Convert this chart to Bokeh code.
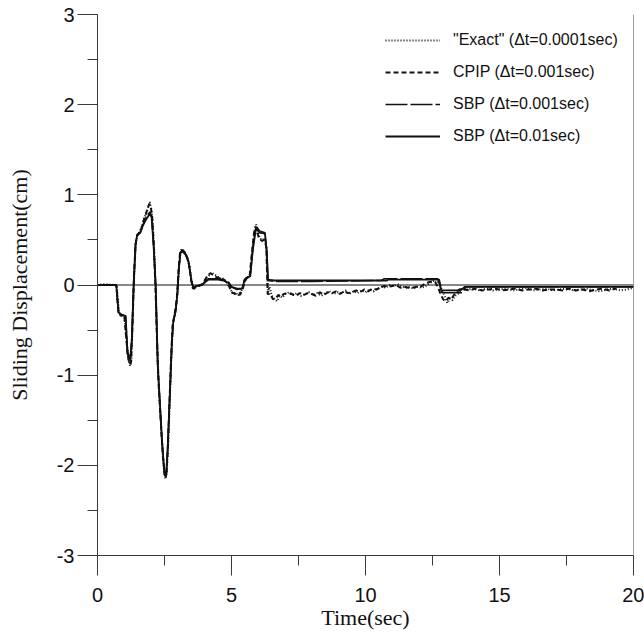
from bokeh.plotting import figure
from bokeh.models import (FixedTicker, Span, Legend, LegendItem)
from bokeh.embed import file_html
from bokeh.resources import INLINE

# ---------------- data ----------------
exact_t = [0, 0.3, 0.6, 0.72, 0.8, 0.88, 1.0, 1.08, 1.15, 1.22, 1.27, 1.32, 1.38, 1.44, 1.5, 1.58,
           1.65, 1.72, 1.8, 1.88, 1.95, 2.0, 2.06, 2.12, 2.18, 2.24, 2.3, 2.38, 2.46, 2.53, 2.58,
           2.64, 2.7, 2.76, 2.82, 2.9, 2.98, 3.04, 3.1, 3.16, 3.26, 3.36, 3.44, 3.52, 3.58, 3.66,
           3.8, 3.95, 4.05, 4.15, 4.25, 4.35, 4.45, 4.55, 4.65, 4.75, 4.85, 4.95, 5.05, 5.15, 5.25,
           5.35, 5.45, 5.5, 5.6, 5.7, 5.78, 5.86, 5.92, 5.98, 6.05, 6.15, 6.25, 6.3, 6.36, 6.42,
           6.5, 6.6, 6.7, 6.8, 6.9, 7.0, 7.15, 7.3, 7.45, 7.6, 7.75, 7.9, 8.05, 8.2, 8.35, 8.5,
           8.65, 8.8, 8.95, 9.1, 9.25, 9.4, 9.55, 9.7, 9.85, 10.0, 10.15, 10.3, 10.45, 10.6, 10.75,
           10.9, 11.05, 11.2, 11.35, 11.5, 11.65, 11.8, 11.95, 12.1, 12.25, 12.4, 12.55, 12.65,
           12.75, 12.85, 12.95, 13.05, 13.15, 13.25, 13.35, 13.45, 13.55, 13.65, 13.8, 14.0, 14.25,
           14.5, 14.75, 15.0, 15.25, 15.5, 15.75, 16.0, 16.25, 16.5, 16.75, 17.0, 17.25, 17.5,
           17.75, 18.0, 18.25, 18.5, 18.75, 19.0, 19.25, 19.5, 19.75, 20.0]
exact_v = [0, 0.01, 0.0, 0.0, -0.3, -0.33, -0.36, -0.6, -0.82, -0.9, -0.82, -0.3, 0.2, 0.5, 0.55, 0.6,
           0.65, 0.72, 0.78, 0.85, 0.92, 0.86, 0.7, 0.35, -0.1, -0.8, -1.2, -1.6, -2.0, -2.15, -2.1,
           -1.75, -1.25, -0.75, -0.42, -0.3, -0.12, 0.2, 0.38, 0.4, 0.36, 0.3, 0.2, 0.02, -0.05, -0.02,
           -0.01, 0.02, 0.08, 0.1, 0.14, 0.12, 0.1, 0.07, 0.08, 0.05, 0.02, -0.04, -0.1, -0.08, -0.12,
           -0.07, -0.02, 0.05, 0.08, 0.12, 0.4, 0.6, 0.67, 0.6, 0.52, 0.5, 0.52, 0.4, -0.08, -0.02,
           -0.12, -0.15, -0.18, -0.12, -0.14, -0.1, -0.08, -0.11, -0.09, -0.12, -0.1, -0.08, -0.11, -0.09, -0.12, -0.09,
           -0.07, -0.1, -0.08, -0.09, -0.06, -0.1, -0.07, -0.09, -0.06, -0.08, -0.05, -0.07, -0.04, -0.02, -0.03,
           0.0, -0.01, 0.01, -0.02, -0.03, -0.02, -0.04, -0.02, -0.03, -0.01, 0.02, 0.05, 0.02,
           0.04, -0.05, -0.12, -0.2, -0.15, -0.17, -0.12, -0.1, -0.06, -0.03, -0.05, -0.04, -0.06,
           -0.04, -0.06, -0.05, -0.04, -0.06, -0.05, -0.03, -0.06, -0.05, -0.04, -0.06, -0.05, -0.04,
           -0.06, -0.05, -0.04, -0.06, -0.07, -0.05, -0.04, -0.06, -0.05, -0.03]

cpip_t = [0, 0.4, 0.7, 0.78, 0.86, 1.0, 1.06, 1.14, 1.2, 1.25, 1.3, 1.36, 1.42, 1.48, 1.56, 1.64,
          1.7, 1.78, 1.86, 1.93, 1.98, 2.04, 2.1, 2.16, 2.22, 2.28, 2.36, 2.44, 2.52, 2.57, 2.62,
          2.68, 2.74, 2.8, 2.88, 2.96, 3.02, 3.08, 3.14, 3.24, 3.34, 3.42, 3.5, 3.56, 3.64, 3.78,
          3.92, 4.02, 4.12, 4.22, 4.32, 4.42, 4.52, 4.62, 4.72, 4.82, 4.92, 5.02, 5.12, 5.22, 5.32,
          5.42, 5.5, 5.58, 5.68, 5.76, 5.84, 5.9, 5.96, 6.04, 6.14, 6.24, 6.3, 6.35, 6.45, 6.55,
          6.65, 6.75, 6.85, 6.95, 7.1, 7.25, 7.4, 7.55, 7.7, 7.85, 8.0, 8.15, 8.3, 8.45, 8.6, 8.75,
          8.9, 9.05, 9.2, 9.35, 9.5, 9.65, 9.8, 9.95, 10.1, 10.25, 10.4, 10.55, 10.7, 10.85, 11.0,
          11.15, 11.3, 11.45, 11.6, 11.75, 11.9, 12.05, 12.2, 12.35, 12.5, 12.6, 12.7, 12.8, 12.9,
          13.0, 13.1, 13.2, 13.3, 13.4, 13.5, 13.6, 13.7, 13.9, 14.1, 14.35, 14.6, 14.85, 15.1,
          15.35, 15.6, 15.85, 16.1, 16.35, 16.6, 16.85, 17.1, 17.35, 17.6, 17.85, 18.1, 18.35,
          18.6, 18.85, 19.1, 19.35, 19.6, 19.85, 20.0]
cpip_v = [0, 0.0, 0.0, -0.28, -0.34, -0.33, -0.55, -0.8, -0.88, -0.86, -0.5, 0.1, 0.45, 0.55, 0.58, 0.62,
          0.7, 0.76, 0.84, 0.9, 0.88, 0.75, 0.45, 0.0, -0.6, -1.1, -1.5, -1.9, -2.12, -2.1, -1.85,
          -1.35, -0.85, -0.45, -0.32, -0.15, 0.15, 0.36, 0.39, 0.37, 0.31, 0.22, 0.05, -0.04, -0.03,
          -0.01, 0.01, 0.06, 0.11, 0.13, 0.11, 0.09, 0.08, 0.06, 0.06, 0.03, -0.02, -0.08, -0.1, -0.09,
          -0.11, -0.04, 0.04, 0.09, 0.11, 0.35, 0.58, 0.65, 0.58, 0.51, 0.49, 0.5, 0.42, -0.1, -0.1,
          -0.16, -0.15, -0.11, -0.13, -0.1, -0.09, -0.1, -0.12, -0.09, -0.11, -0.09, -0.1, -0.12, -0.08, -0.11, -0.08,
          -0.09, -0.07, -0.1, -0.07, -0.09, -0.08, -0.06, -0.08, -0.05, -0.07, -0.04, -0.05, -0.03, -0.01, -0.02,
          -0.01, 0.0, -0.03, -0.02, -0.03, -0.03, -0.02, -0.02, 0.01, 0.03, 0.04, 0.03, -0.02, -0.1,
          -0.16, -0.18, -0.14, -0.16, -0.11, -0.08, -0.05, -0.04, -0.05, -0.06, -0.04, -0.06, -0.05,
          -0.04, -0.06, -0.05, -0.04, -0.06, -0.05, -0.04, -0.06, -0.05, -0.05, -0.06, -0.04,
          -0.06, -0.05, -0.07, -0.05, -0.04, -0.06, -0.04]

sbp1_t = [0, 0.7, 0.78, 0.85, 1.05, 1.12, 1.22, 1.28, 1.35, 1.42, 1.48, 1.6, 1.68, 1.8, 1.95, 2.02,
          2.1, 2.17, 2.25, 2.3, 2.4, 2.5, 2.56, 2.62, 2.7, 2.78, 2.83, 2.92, 2.98, 3.04, 3.1, 3.18,
          3.3, 3.4, 3.5, 3.58, 3.7, 3.9, 4.05, 4.15, 4.5, 4.7, 4.9, 5.0, 5.2, 5.4, 5.48, 5.55, 5.7,
          5.8, 5.9, 5.95, 6.05, 6.25, 6.32, 6.36, 6.6, 8.0, 10.8, 10.85, 12.75, 12.82, 13.55,
          13.7, 20.0]
sbp1_v = [0, 0, -0.3, -0.32, -0.35, -0.75, -0.82, -0.6, 0.0, 0.45, 0.55, 0.58, 0.65, 0.72, 0.79, 0.75,
          0.4, 0.0, -0.9, -1.15, -1.7, -2.1, -2.12, -1.8, -1.2, -0.6, -0.4, -0.28, -0.1, 0.2, 0.36, 0.37,
          0.33, 0.25, 0.05, -0.03, -0.01, 0.0, 0.04, 0.06, 0.06, 0.05, 0.02, -0.02, -0.04, -0.04, 0.05, 0.07, 0.1,
          0.4, 0.6, 0.62, 0.58, 0.57, 0.35, 0.06, 0.05, 0.05, 0.05, 0.06, 0.06, -0.06, -0.06,
          -0.02, -0.02]

sbp2_t = [0, 0.7, 0.78, 0.85, 1.05, 1.12, 1.22, 1.28, 1.35, 1.42, 1.48, 1.6, 1.68, 1.8, 1.95, 2.02,
          2.1, 2.17, 2.25, 2.3, 2.4, 2.5, 2.56, 2.62, 2.7, 2.78, 2.83, 2.92, 2.98, 3.04, 3.1, 3.18,
          3.3, 3.4, 3.5, 3.58, 3.7, 3.9, 4.05, 4.15, 4.5, 4.7, 4.9, 5.0, 5.2, 5.4, 5.48, 5.55, 5.7,
          5.8, 5.9, 5.95, 6.05, 6.25, 6.32, 6.36, 6.6, 8.0, 10.6, 10.7, 12.7, 12.85, 13.6,
          13.75, 20.0]
sbp2_v = [0, 0, -0.31, -0.33, -0.34, -0.77, -0.84, -0.62, 0.0, 0.46, 0.56, 0.59, 0.66, 0.74, 0.81, 0.77,
          0.42, 0.0, -0.92, -1.17, -1.72, -2.1, -2.13, -1.82, -1.22, -0.62, -0.41, -0.29, -0.1, 0.2, 0.37, 0.38,
          0.34, 0.26, 0.05, -0.03, -0.01, 0.0, 0.05, 0.07, 0.07, 0.06, 0.03, -0.02, -0.05, -0.04, 0.06, 0.08, 0.1,
          0.42, 0.62, 0.64, 0.6, 0.58, 0.36, 0.05, 0.04, 0.04, 0.05, 0.07, 0.07, -0.085, -0.085,
          -0.02, -0.02]

x_ticks = [0, 5, 10, 15, 20]
x_minor = [2.5, 7.5, 12.5, 17.5]
y_ticks = [-3, -2, -1, 0, 1, 2, 3]
y_minor = [-2.5, -1.5, -0.5, 0.5, 1.5, 2.5]
y_tick_labels = ["-3", "-2", "-1", "0", "1", "2", "3"]

labels = ['"Exact" (\u0394t=0.0001sec)', 'CPIP (\u0394t=0.001sec)',
          'SBP (\u0394t=0.001sec)', 'SBP (\u0394t=0.01sec)']

# ---------------- figure ----------------
INK = "#111111"
AX = "#3a3a3a"

p = figure(width=644, height=632, x_range=(0, 20), y_range=(-3, 3),
           output_backend="svg", toolbar_location=None,
           min_border_left=97, min_border_right=11, min_border_top=14, min_border_bottom=76)
p.outline_line_color = None
p.grid.visible = False
p.background_fill_color = "white"
p.border_fill_color = "white"

for ax, maj, mnr in ((p.xaxis[0], x_ticks, x_minor), (p.yaxis[0], y_ticks, y_minor)):
    ax.ticker = FixedTicker(ticks=maj, minor_ticks=mnr)
    ax.major_tick_out = 20
    ax.major_tick_in = 0
    ax.minor_tick_out = 10
    ax.minor_tick_in = 0
    ax.axis_line_color = AX
    ax.major_tick_line_color = AX
    ax.minor_tick_line_color = AX
    ax.major_label_text_font = "Liberation Sans"
    ax.major_label_text_font_size = "20px"
    ax.major_label_text_color = "#111111"
    ax.axis_label_text_font = "Liberation Serif"
    ax.axis_label_text_font_size = "22px"
    ax.axis_label_text_font_style = "normal"
    ax.axis_label_text_color = "#111111"

p.yaxis[0].major_label_overrides = {t: s for t, s in zip(y_ticks, y_tick_labels)}

p.xaxis.axis_label = "Time(sec)"
p.yaxis.axis_label = "Sliding Displacement(cm)"
p.xaxis.major_label_standoff = 12
p.xaxis.axis_label_standoff = 0
p.yaxis.major_label_standoff = 3
p.yaxis.axis_label_standoff = 22

p.add_layout(Span(location=20, dimension="height", line_color=AX, line_width=1))
p.add_layout(Span(location=0, dimension="width", line_color=INK, line_width=1))

r_exact = p.line(exact_t, exact_v, line_color=INK, line_width=2, line_dash="1 2")
r_cpip = p.line(cpip_t, cpip_v, line_color=INK, line_width=2, line_dash="5 3")
r_sbp2 = p.line(sbp2_t, sbp2_v, line_color=INK, line_width=1.5, line_dash="22 3")
r_sbp1 = p.line(sbp1_t, sbp1_v, line_color=INK, line_width=1.8)

legend = Legend(items=[LegendItem(label=labels[0], renderers=[r_exact]),
                       LegendItem(label=labels[1], renderers=[r_cpip]),
                       LegendItem(label=labels[2], renderers=[r_sbp2]),
                       LegendItem(label=labels[3], renderers=[r_sbp1])],
                location=(288, 409))
legend.border_line_color = None
legend.background_fill_alpha = 0
legend.label_text_font = "Liberation Sans"
legend.label_text_font_size = "16px"
legend.label_text_color = "#111111"
legend.glyph_width = 55
legend.glyph_height = 20
legend.label_height = 20
legend.label_standoff = 13
legend.spacing = 12
legend.padding = 0
legend.margin = 0
p.add_layout(legend)

open("out.html", "w").write(file_html(p, INLINE))
